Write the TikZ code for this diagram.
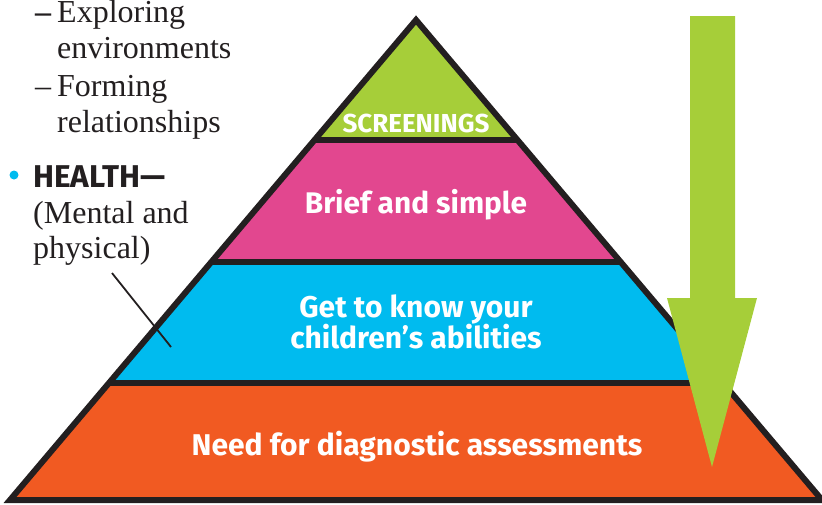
\documentclass[tikz,border=0pt]{standalone}
\usepackage{fontspec}
\setmainfont{Liberation Serif}
\setsansfont{Fira Sans}
\usetikzlibrary{calc}
\definecolor{pgreen}{HTML}{A6CE39}
\definecolor{ppink}{HTML}{E2478F}
\definecolor{pcyan}{HTML}{00BBEF}
\definecolor{porange}{HTML}{F15A22}
\definecolor{pblack}{HTML}{231F20}
\tikzset{
  outline/.style={draw=pblack, line width=6pt},
  layertext/.style={text=white, font=\sffamily\bfseries\fontsize{#1}{#1}\selectfont, anchor=base, inner sep=0pt},
  sidetext/.style={text=pblack, font=\fontsize{32}{36}\selectfont, anchor=base west, inner sep=0pt},
  sidebold/.style={text=pblack, font=\sffamily\bfseries\fontsize{31.5}{36}\selectfont, anchor=base west, inner sep=0pt},
  pointer/.style={draw=pblack, line width=1.8pt},
  bigarrow/.style={fill=pgreen, draw=none}
}
\begin{document}
\begin{tikzpicture}[x=1pt,y=-1pt]
\useasboundingbox (0,0) rectangle (822,504);
% pyramid corners
\coordinate (A) at (416,20);
\coordinate (BL) at (10,500);
\coordinate (BR) at (822,500);
\coordinate (L1) at ($(A)!0.25!(BL)$);
\coordinate (R1) at ($(A)!0.25!(BR)$);
\coordinate (L2) at ($(A)!0.504!(BL)$);
\coordinate (R2) at ($(A)!0.504!(BR)$);
\coordinate (L3) at ($(A)!0.756!(BL)$);
\coordinate (R3) at ($(A)!0.756!(BR)$);
% layers
\fill[pgreen] (A) -- (L1) -- (R1) -- cycle;
\fill[ppink] (L1) -- (R1) -- (R2) -- (L2) -- cycle;
\fill[pcyan] (L2) -- (R2) -- (R3) -- (L3) -- cycle;
\fill[porange] (L3) -- (R3) -- (BR) -- (BL) -- cycle;
\draw[outline] (L1) -- (R1);
\draw[outline] (L2) -- (R2);
\draw[outline] (L3) -- (R3);
\draw[outline] (A) -- (BL) -- (BR) -- cycle;
% layer labels
\node[layertext=26] (t1) at (416,132) {SCREENINGS};
\node[layertext=29.8] (t2) at (416,213) {Brief and simple};
\node[layertext=30] (t3a) at (416,317) {Get to know your};
\node[layertext=30] (t3b) at (416,348) {children’s abilities};
\node[layertext=30] (t4) at (417,455) {Need for diagnostic assessments};
% big arrow
\fill[bigarrow] (690,16) -- (735,16) -- (735,298) -- (757,298) -- (712,467) -- (667,298) -- (690,298) -- cycle;
% side text
\node[sidetext, font=\bfseries\fontsize{32}{36}\selectfont] (d1) at (35,22) {–};
\node[sidetext] (s1) at (57,22) {Exploring};
\node[sidetext] (s2) at (57,58) {environments};
\node[sidetext] (d2) at (35,96) {–};
\node[sidetext] (s3a) at (57,96) {Forming};
\node[sidetext] (s3) at (57,132) {relationships};
\fill[pcyan] (14,175) circle (4.5);
\node[sidebold] (h1) at (33,187) {HEALTH—};
\node[sidetext] (h2) at (33,223) {(Mental and};
\node[sidetext] (h3) at (33,258) {physical)};
\coordinate (p1) at (112,273);
\coordinate (p2) at (171,347);
\draw[pointer] (p1) -- (p2);
\end{tikzpicture}
\end{document}
